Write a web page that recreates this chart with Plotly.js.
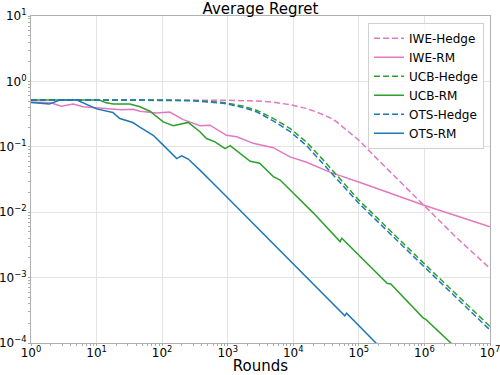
<!DOCTYPE html>
<html>
<head>
<meta charset="utf-8">
<script src="https://cdn.plot.ly/plotly-3.0.1.min.js"></script>
<style>
  body { margin: 0; background: #fff; }
  #myDiv { width: 500px; height: 375px; }
</style>
</head>
<body>
<div id="myDiv"></div>
<script>
// values (log-log)
var iweHedgeX = [1, 100, 1000, 3000, 5000, 9000, 15000, 23000, 36000, 46000, 70000, 100000, 200000, 400000, 1000000, 3000000, 10000000];
var iweHedgeY = [0.52, 0.52, 0.515, 0.50, 0.48, 0.44, 0.39, 0.34, 0.28, 0.24, 0.17, 0.126, 0.062, 0.031, 0.0125, 0.0042, 0.00138];

var iweRmX = [1, 2, 2.9, 4.4, 6.2, 10, 15.7, 24, 36, 46, 82, 130, 210, 377, 535, 960, 1370, 2450, 4960, 8900, 16000, 36000, 110000, 960000, 10000000];
var iweRmY = [0.486, 0.47, 0.418, 0.45, 0.41, 0.394, 0.376, 0.37, 0.375, 0.35, 0.33, 0.34, 0.26, 0.21, 0.214, 0.15, 0.142, 0.113, 0.097, 0.07, 0.058, 0.041, 0.028, 0.0129, 0.006];

var hedgeX = [1, 100, 300, 850, 1700, 2800, 5000, 9000, 16000, 29000, 52000, 100000, 1000000, 10000000];
var ucbHedgeY = [0.52, 0.52, 0.51, 0.476, 0.42, 0.36, 0.27, 0.19, 0.117, 0.062, 0.032, 0.0153, 0.00162, 0.000179];
var otsHedgeY = [0.52, 0.52, 0.505, 0.465, 0.40, 0.34, 0.247, 0.17, 0.104, 0.054, 0.028, 0.0137, 0.00145, 0.000158];

var ucbRmX = [1, 11, 14, 18, 32, 46, 65, 104, 148, 210, 250, 377, 475, 640, 910, 1090, 1530, 2200, 3070, 4960, 6300, 20500, 51700, 55000, 270000, 307000, 960000, 1050000, 3000000];
var ucbRmY = [0.52, 0.52, 0.47, 0.45, 0.45, 0.41, 0.35, 0.24, 0.21, 0.228, 0.236, 0.17, 0.134, 0.119, 0.094, 0.104, 0.079, 0.06, 0.056, 0.035, 0.031, 0.0096, 0.00355, 0.0040, 0.00082, 0.0008, 0.00024, 0.00023, 0.000085];

var otsRmX = [1, 1.9, 2.75, 5, 10, 17.7, 22.6, 35.7, 45.7, 73, 104, 167, 198, 250, 377, 760, 61000, 65000, 200000];
var otsRmY = [0.476, 0.45, 0.52, 0.52, 0.38, 0.335, 0.27, 0.235, 0.2, 0.15, 0.106, 0.066, 0.073, 0.065, 0.044, 0.0218, 0.00026, 0.000286, 0.000091];

var pink = '#e377c2', green = '#2ca02c', blue = '#1f77b4';
var dash = '6px,3px';

function line(name, x, y, color, dashed) {
    return {
        x: x, y: y, name: name, type: 'scatter', mode: 'lines',
        line: { color: color, width: 1.5, dash: dashed ? dash : 'solid' }
    };
}

var data = [
    line('IWE-Hedge', iweHedgeX, iweHedgeY, pink, true),
    line('IWE-RM', iweRmX, iweRmY, pink, false),
    line('UCB-Hedge', hedgeX, ucbHedgeY, green, true),
    line('UCB-RM', ucbRmX, ucbRmY, green, false),
    line('OTS-Hedge', hedgeX, otsHedgeY, blue, true),
    line('OTS-RM', otsRmX, otsRmY, blue, false)
];

// decade ticks as 10^n, minor ticks at 2..9
function decades(lo, hi) {
    var vals = [], text = [], minor = [];
    for (var p = lo; p <= hi; p++) {
        vals.push(Math.pow(10, p));
        text.push('10<sup>' + (p < 0 ? '\u2212' + (-p) : p) + '</sup>');
        if (p < hi) for (var m = 2; m < 10; m++) minor.push(m * Math.pow(10, p));
    }
    return { vals: vals, text: text, minor: minor };
}
var xt = decades(0, 7), yt = decades(-4, 1);

function axis(t, range) {
    return {
        type: 'log', range: range,
        tickmode: 'array', tickvals: t.vals, ticktext: t.text,
        ticks: 'outside', ticklen: 2, tickcolor: '#aaa',
        tickfont: { size: 12, color: '#000' },
        ticklabeloverflow: 'allow',
        showgrid: true, gridcolor: '#e3e3e3', gridwidth: 1.2,
        showline: true, mirror: true, linecolor: '#b0b0b0', linewidth: 1,
        zeroline: false,
        minor: { tickmode: 'array', tickvals: t.minor, ticks: 'outside', ticklen: 2, tickcolor: '#aaa', showgrid: false }
    };
}

var xaxis = axis(xt, [0, 7]);
xaxis.ticklabelstandoff = -3;
xaxis.title = { text: 'Rounds', font: { size: 15, color: '#000' }, standoff: 0 };
var yaxis = axis(yt, [-4, 1]);
yaxis.ticklabelstandoff = -1;

var layout = {
    width: 500, height: 375,
    margin: { l: 31, r: 10, t: 16, b: 32 },
    paper_bgcolor: '#fff', plot_bgcolor: '#fff',
    font: { family: 'DejaVu Sans, sans-serif', color: '#000' },
    title: {
        text: 'Average Regret', font: { size: 15, color: '#000' },
        xref: 'paper', x: 0.5, yref: 'paper', y: 1, yanchor: 'bottom', pad: { b: 2 }
    },
    xaxis: xaxis,
    yaxis: yaxis,
    showlegend: true,
    legend: {
        x: 0.987, y: 0.979, xanchor: 'right', yanchor: 'top',
        bgcolor: 'rgba(255,255,255,0.8)', bordercolor: '#d0d0d0', borderwidth: 1,
        font: { size: 12, color: '#000' }
    }
};

Plotly.newPlot('myDiv', data, layout, { displayModeBar: false, staticPlot: true });
</script>
</body>
</html>
